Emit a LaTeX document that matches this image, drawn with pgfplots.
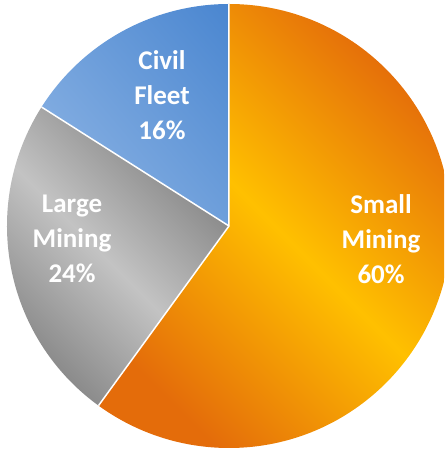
\documentclass[border=0pt]{standalone}
\usepackage{pgfplots}
\pgfplotsset{compat=1.18}
\usepackage{pgfplotstable}
\usetikzlibrary{shadings}
\usepackage{fontspec}
\setmainfont{Carlito}

\pgfplotstableread{
label share
Small 60
Large 24
Civil 16
}\piedata

\definecolor{orD}{HTML}{E46C0A}
\definecolor{orL}{HTML}{FFC000}
\definecolor{grD}{HTML}{7F7F7F}
\definecolor{grL}{HTML}{C3C3C3}
\definecolor{blD}{HTML}{4A86D0}
\definecolor{blL}{HTML}{93B8E6}
\definecolor{blM}{HTML}{6E9FDB}

\begin{document}
\begin{tikzpicture}
\pgfplotstablegetelem{0}{share}\of\piedata \let\vA\pgfplotsretval
\pgfplotstablegetelem{1}{share}\of\piedata \let\vB\pgfplotsretval
\pgfplotstablegetelem{2}{share}\of\piedata \let\vC\pgfplotsretval
\pgfmathsetmacro{\aA}{90}
\pgfmathsetmacro{\aB}{\aA-3.6*\vA}
\pgfmathsetmacro{\aC}{\aB-3.6*\vB}
\pgfmathsetmacro{\aD}{\aC-3.6*\vC}
\begin{axis}[name=ax, hide axis, x=222pt, y=222pt,
  xmin=-1.0315, xmax=0.9685, ymin=-1.0045, ymax=1.018, clip=true]
% Small Mining
\shade[top color=orD, bottom color=orD, middle color=orL, shading angle=-45]
  (axis cs:0,0) -- (axis cs:{cos(\aA)},{sin(\aA)}) arc[start angle=\aA, end angle=\aB, radius=222pt] -- cycle;
% Large Mining
\shade[top color=grD, bottom color=grD, middle color=grL, shading angle=-45]
  (axis cs:0,0) -- (axis cs:{cos(\aB)},{sin(\aB)}) arc[start angle=\aB, end angle=\aC, radius=222pt] -- cycle;
% Civil Fleet
\shade[upper right=blD, lower left=blL, upper left=blM, lower right=blM]
  (axis cs:0,0) -- (axis cs:{cos(\aC)},{sin(\aC)}) arc[start angle=\aC, end angle=\aD, radius=222pt] -- cycle;
% separators
\draw[white, line width=1.5pt] (axis cs:{cos(\aA)},{sin(\aA)}) -- (axis cs:0,0) -- (axis cs:{cos(\aB)},{sin(\aB)});
\draw[white, line width=1.5pt] (axis cs:0,0) -- (axis cs:{cos(\aC)},{sin(\aC)});
\tikzset{lbl/.style={text=white, align=center, font=\bfseries\fontsize{27}{35}\selectfont}}
\node[lbl] at (axis cs:-0.302,0.590) {Civil\\Fleet\\16\%};
\node[lbl] at (axis cs:-0.707,-0.06) {Large\\Mining\\24\%};
\node[lbl] at (axis cs:0.685,-0.06) {Small\\Mining\\60\%};
\end{axis}
\pgfresetboundingbox
\path (ax.south west) rectangle (ax.north east);
\end{tikzpicture}
\end{document}
